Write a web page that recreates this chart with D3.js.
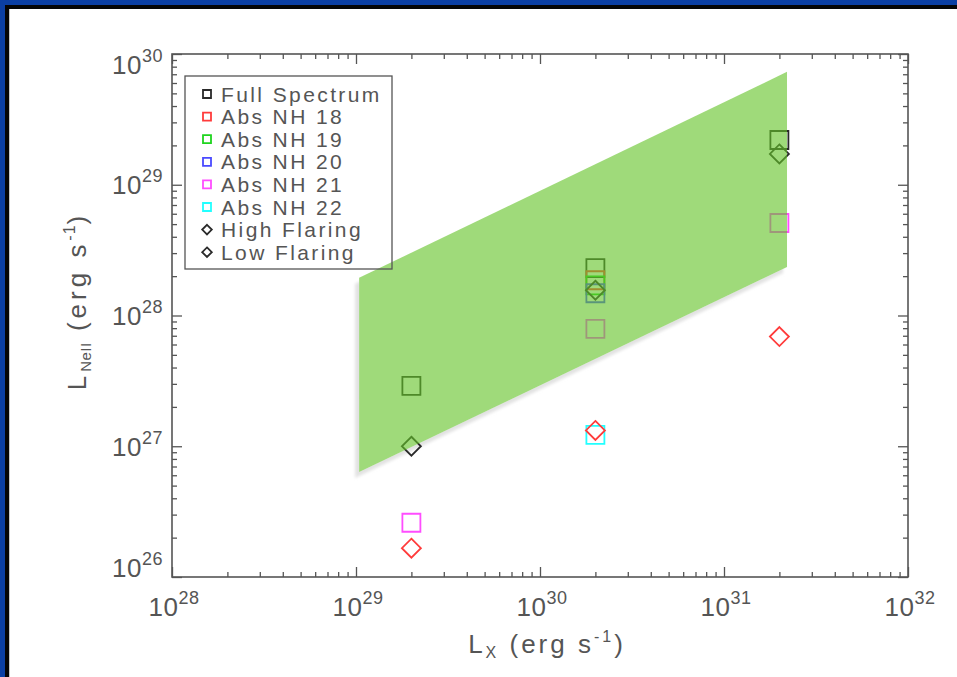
<!DOCTYPE html>
<html><head><meta charset="utf-8">
<script src="https://cdn.jsdelivr.net/npm/d3@7"></script>
<style>body{margin:0;background:#fff}svg{display:block}</style>
</head><body>
<svg id="c" width="957" height="677"></svg>
<script>
// ---- data ----
const xTickExps = [28, 29, 30, 31, 32];
const yTickExps = [26, 27, 28, 29, 30];
const seriesNames = ["Full Spectrum", "Abs NH 18", "Abs NH 19", "Abs NH 20", "Abs NH 21", "Abs NH 22", "High Flaring", "Low Flaring"];
const seriesSymbols = ["square", "square", "square", "square", "square", "square", "diamond", "diamond"];
const seriesColors = ["#2a2a2a", "#ff3b3b", "#1ed41e", "#4a4aff", "#ff4dff", "#22ffff", "#2a2a2a", "#ff3b3b"];
const legendColors = ["#2a2a2a", "#ff3b3b", "#1ed41e", "#4a4aff", "#ff4dff", "#22ffff", "#2a2a2a", "#2a2a2a"];
const fullSpectrumX = [2e29, 2e30, 2e31], fullSpectrumY = [2.9e27, 2.3e28, 2.2e29];
const absNH18X = [2e30], absNH18Y = [1.86e28];
const absNH19X = [2e30], absNH19Y = [1.7e28];
const absNH20X = [2e30], absNH20Y = [1.48e28];
const absNH21X = [2e29, 2e30, 2e31], absNH21Y = [2.6e26, 7.9e27, 5.1e28];
const absNH22X = [2e30], absNH22Y = [1.22e27];
const highFlaringX = [2e29, 2e30, 2e31], highFlaringY = [1.0e27, 1.56e28, 1.72e29];
const lowFlaringX = [2e29, 2e30, 2e31], lowFlaringY = [1.66e26, 1.32e27, 6.9e27];
const bandX = [1.04e29, 2.2e31, 2.2e31, 1.04e29];
const bandY = [1.94e28, 7.3e29, 2.35e28, 6.35e26];

const seriesX = [fullSpectrumX, absNH18X, absNH19X, absNH20X, absNH21X, absNH22X, highFlaringX, lowFlaringX];
const seriesY = [fullSpectrumY, absNH18Y, absNH19Y, absNH20Y, absNH21Y, absNH22Y, highFlaringY, lowFlaringY];

// ---- layout ----
const L = 172, R = 908, T = 54, B = 577;
const FONT = "'Liberation Sans', Arial, sans-serif";
const TXT = "#555";
const svg = d3.select("#c");

// outer border
svg.append("rect").attr("x", 0).attr("y", 0).attr("width", 957).attr("height", 5).attr("fill", "#0b3fa3");
svg.append("rect").attr("x", 0).attr("y", 0).attr("width", 5).attr("height", 677).attr("fill", "#0b3fa3");
svg.append("rect").attr("x", 5).attr("y", 5).attr("width", 952).attr("height", 4).attr("fill", "#050505");
svg.append("rect").attr("x", 5).attr("y", 5).attr("width", 4).attr("height", 672).attr("fill", "#050505");
svg.append("rect").attr("x", 9).attr("y", 9).attr("width", 1).attr("height", 668).attr("fill", "#c8c8c8");

const x = d3.scaleLog().domain([1e28, 1e32]).range([L, R]);
const y = d3.scaleLog().domain([1e26, 1e30]).range([B, T]);

// band
const bandPts = bandX.map((v, i) => [x(v), y(bandY[i])]);
const line = d3.line();
const defs = svg.append("defs");
defs.append("filter").attr("id", "blur").append("feGaussianBlur").attr("stdDeviation", 1.5);
svg.append("path").attr("d", line(bandPts) + "Z").attr("fill", "#e2e2e2")
  .attr("transform", "translate(-4,6)").attr("filter", "url(#blur)");
svg.append("path").attr("d", line(bandPts) + "Z").attr("fill", "#fff");

// points
function symPath(kind, r) {
  if (kind === "square") return `M${-r},${-r}H${r}V${r}H${-r}Z`;
  return `M0,${-r}L${r},0L0,${r}L${-r},0Z`;
}
seriesNames.forEach((name, i) => {
  const g = svg.append("g");
  seriesX[i].forEach((xv, j) => {
    g.append("path")
      .attr("d", symPath(seriesSymbols[i], seriesSymbols[i] === "square" ? 9 : 9.5))
      .attr("transform", `translate(${x(xv)},${y(seriesY[i][j])})`)
      .attr("fill", "none").attr("stroke", seriesColors[i]).attr("stroke-width", 1.8);
  });
});

svg.append("path").attr("d", line(bandPts) + "Z").attr("fill", "rgb(100,196,40)").attr("fill-opacity", 0.62);

// frame and axes
function minorVals(lo, hi) {
  const out = [];
  for (let e = lo; e < hi; e++) for (let m = 2; m <= 9; m++) out.push(m * Math.pow(10, e));
  return out;
}
const xMaj = xTickExps.map(e => Math.pow(10, e)), yMaj = yTickExps.map(e => Math.pow(10, e));
const xMin = minorVals(28, 32), yMin = minorVals(26, 30);
function drawAxis(axisFn, scale, vals, size, tr) {
  const g = svg.append("g").attr("transform", tr)
    .call(axisFn(scale).tickValues(vals).tickSize(size).tickFormat(""));
  g.select(".domain").remove();
  g.selectAll("line").attr("stroke", "#555").attr("stroke-width", 1.3);
}
drawAxis(d3.axisBottom, x, xMaj, -10, `translate(0,${B})`);
drawAxis(d3.axisBottom, x, xMin, -5, `translate(0,${B})`);
drawAxis(d3.axisTop, x, xMaj, -10, `translate(0,${T})`);
drawAxis(d3.axisTop, x, xMin, -5, `translate(0,${T})`);
drawAxis(d3.axisLeft, y, yMaj, -10, `translate(${L},0)`);
drawAxis(d3.axisLeft, y, yMin, -5, `translate(${L},0)`);
drawAxis(d3.axisRight, y, yMaj, -10, `translate(${R},0)`);
drawAxis(d3.axisRight, y, yMin, -5, `translate(${R},0)`);
svg.append("rect").attr("x", L).attr("y", T).attr("width", R - L).attr("height", B - T)
  .attr("fill", "none").attr("stroke", "#555").attr("stroke-width", 1.6);

// tick labels
function powLabel(g, e) {
  g.append("tspan").text("10");
  g.append("tspan").attr("font-size", 18).attr("dy", -12).text(String(e));
}
xTickExps.forEach(e => {
  const t = svg.append("text").attr("x", x(Math.pow(10, e)) + 2).attr("y", 616)
    .attr("text-anchor", "middle").attr("font-family", FONT).attr("font-size", 26)
    .attr("fill", TXT).attr("letter-spacing", 0.5);
  powLabel(t, e);
});
yTickExps.forEach(e => {
  const cy = Math.max(T + 10, Math.min(B - 10, y(Math.pow(10, e))));
  const t = svg.append("text").attr("x", 163).attr("y", cy + 9.5)
    .attr("text-anchor", "end").attr("font-family", FONT).attr("font-size", 26)
    .attr("fill", TXT).attr("letter-spacing", 0.5);
  powLabel(t, e);
});

// axis titles
const xt = svg.append("text").attr("x", 547).attr("y", 653).attr("text-anchor", "middle")
  .attr("font-family", FONT).attr("font-size", 26).attr("fill", TXT).attr("letter-spacing", 3);
xt.append("tspan").text("L");
xt.append("tspan").attr("font-size", 16).attr("dy", 5).text("X");
xt.append("tspan").attr("dy", -5).text(" (erg s");
xt.append("tspan").attr("font-size", 16).attr("dy", -11).text("-1");
xt.append("tspan").attr("dy", 11).text(")");

const yt = svg.append("text").attr("transform", "translate(86,301) rotate(-90)").attr("text-anchor", "middle")
  .attr("font-family", FONT).attr("font-size", 26).attr("fill", TXT).attr("letter-spacing", 4);
yt.append("tspan").text("L");
yt.append("tspan").attr("font-size", 15).attr("dy", 5).attr("letter-spacing", 0.5).text("NeII");
yt.append("tspan").attr("dy", -5).text(" (erg s");
yt.append("tspan").attr("font-size", 16).attr("dy", -11).attr("letter-spacing", 1).text("-1");
yt.append("tspan").attr("dy", 11).text(")");

// legend
svg.append("rect").attr("x", 185).attr("y", 76).attr("width", 207).attr("height", 193)
  .attr("fill", "none").attr("stroke", "#555").attr("stroke-width", 1.3);
seriesNames.forEach((name, i) => {
  const cy = 94 + i * 22.6;
  svg.append("path").attr("d", symPath(seriesSymbols[i], seriesSymbols[i] === "square" ? 4 : 4.8))
    .attr("transform", `translate(207,${cy})`).attr("fill", "none")
    .attr("stroke", legendColors[i]).attr("stroke-width", 1.8);
  svg.append("text").attr("x", 221).attr("y", cy + 7.5).attr("font-family", FONT)
    .attr("font-size", 21).attr("fill", TXT).attr("letter-spacing", 2.4).text(name);
});
</script>
</body></html>
